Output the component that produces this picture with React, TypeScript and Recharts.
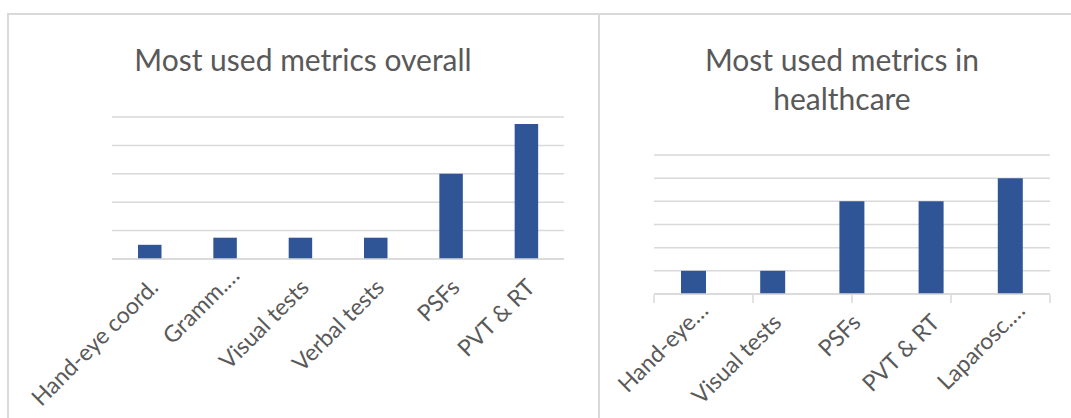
import type React from "react"
import { BarChart, Bar, XAxis, YAxis, CartesianGrid } from "recharts"

const overallLabels = ["Hand-eye coord.", "Gramm.…", "Visual tests", "Verbal tests", "PSFs", "PVT & RT"]
const overallCounts = [2, 3, 3, 3, 12, 19]
const overallTicks = [0, 4, 8, 12, 16, 20]

const healthLabels = ["Hand-eye…", "Visual tests", "PSFs", "PVT & RT", "Laparosc.…"]
const healthCounts = [1, 1, 4, 4, 5]
const healthTicks = [0, 1, 2, 3, 4, 5, 6]
const healthEdges = [0, 1, 2, 3, 4, 5]

const FONT = "Lato, 'Noto Sans', sans-serif"
const TEXT = "#595959"
const GRID = "#D9D9D9"
const BAR = "#2F5597"

const overallData = overallLabels.map((name, i) => ({ name, value: overallCounts[i] }))
const healthData = healthLabels.map((name, i) => ({ name, value: healthCounts[i] }))

// recharts hands us y = axis + 8; truncated labels sit a bit higher in Excel
const AngledTick = (props: any) => {
  const { x, y, payload } = props
  const cut = String(payload.value).endsWith("…")
  const dx = cut ? 16 : 10
  const dy = cut ? 10 : 22
  return (
    <g transform={`translate(${x + dx},${y + dy})`}>
      <text textAnchor="end" transform="rotate(-45)" fill={TEXT} fontSize={23} fontFamily={FONT}>
        {payload.value}
      </text>
    </g>
  )
}

const NoTick = () => <g />

const App: React.FC = () => {
  return (
    <div style={{ position: "absolute", left: 0, top: 0, width: 1071, height: 418, overflow: "hidden", background: "#fff" }}>
      <svg width={1071} height={418} style={{ position: "absolute", left: 0, top: 0 }}>
        <rect x={7} y={13} width={1064} height={2} fill={GRID} />
        <rect x={7} y={13} width={2} height={405} fill={GRID} />
        <rect x={598} y={13} width={2} height={405} fill={GRID} />
        <text x={303} y={71} textAnchor="middle" fill={TEXT} fontSize={30} fontFamily={FONT}>
          Most used metrics overall
        </text>
        <text x={842} y={71} textAnchor="middle" fill={TEXT} fontSize={30} fontFamily={FONT}>
          Most used metrics in
        </text>
        <text x={842} y={110} textAnchor="middle" fill={TEXT} fontSize={30} fontFamily={FONT}>
          healthcare
        </text>
      </svg>

      <div style={{ position: "absolute", left: 0, top: 0 }}>
        <BarChart width={600} height={418} data={overallData} margin={{ top: 117, right: 36, bottom: 158, left: 111 }}>
          <CartesianGrid vertical={false} stroke={GRID} strokeWidth={1.5} />
          <YAxis width={1} domain={[0, 20]} ticks={overallTicks} tick={<NoTick />} axisLine={false} tickLine={false} />
          <XAxis
            dataKey="name"
            height={1}
            interval={0}
            axisLine={{ stroke: GRID, strokeWidth: 1.5 }}
            tickLine={false}
            tick={<AngledTick />}
          />
          <Bar dataKey="value" fill={BAR} barSize={23.5} isAnimationActive={false} />
        </BarChart>
      </div>

      <div style={{ position: "absolute", left: 600, top: 0 }}>
        <BarChart width={471} height={418} data={healthData} margin={{ top: 155, right: 21, bottom: 122, left: 53 }}>
          <CartesianGrid vertical={false} stroke={GRID} strokeWidth={1.5} />
          <YAxis width={1} domain={[0, 6]} ticks={healthTicks} tick={<NoTick />} axisLine={false} tickLine={false} />
          <XAxis
            dataKey="name"
            height={1}
            interval={0}
            axisLine={{ stroke: GRID, strokeWidth: 1.5 }}
            tickLine={false}
            tick={<AngledTick />}
          />
          <XAxis
            xAxisId="edges"
            type="number"
            domain={[0, 5]}
            allowDataOverflow
            ticks={healthEdges}
            height={1}
            interval={0}
            axisLine={false}
            tickSize={8}
            tickLine={{ stroke: GRID, strokeWidth: 1.5 }}
            tick={<NoTick />}
          />
          <Bar dataKey="value" fill={BAR} barSize={25} isAnimationActive={false} />
        </BarChart>
      </div>
    </div>
  )
}

export default App
